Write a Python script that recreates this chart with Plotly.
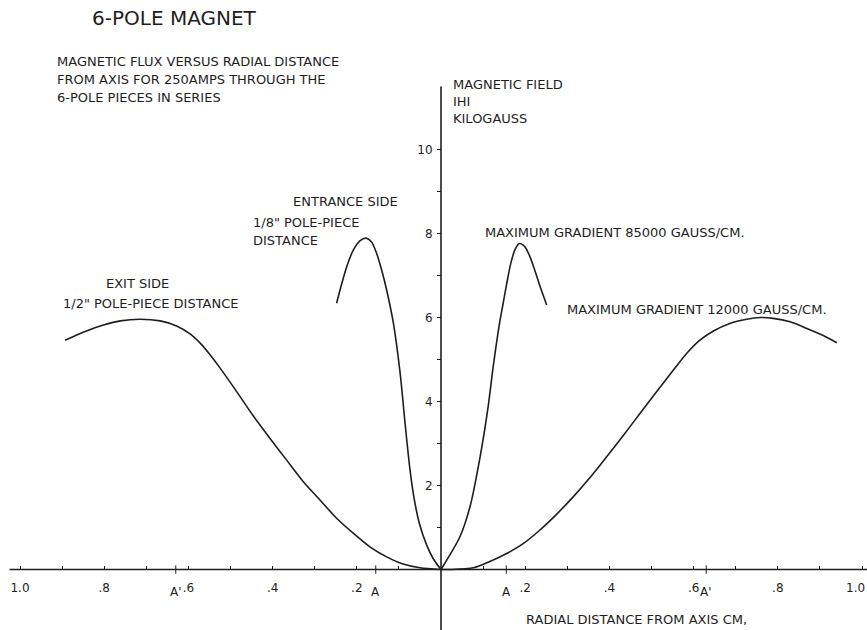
import plotly.graph_objects as go

# ---- data (radial distance in cm, field in kilogauss) ----
exit_x = [-0.893, -0.842, -0.802, -0.762, -0.715, -0.667, -0.628, -0.596, -0.572, -0.549, -0.525,
          -0.485, -0.446, -0.406, -0.367, -0.327, -0.287, -0.248, -0.208, -0.169, -0.129, -0.090, -0.050, 0.0]
exit_y = [5.46, 5.68, 5.82, 5.92, 5.96, 5.92, 5.80, 5.61, 5.39, 5.12, 4.80,
          4.23, 3.66, 3.12, 2.61, 2.09, 1.65, 1.22, 0.86, 0.54, 0.30, 0.13, 0.04, 0.0]

entr_x = [-0.248, -0.240, -0.224, -0.208, -0.192, -0.178, -0.165, -0.153, -0.141, -0.129, -0.113,
          -0.097, -0.086, -0.074, -0.064, -0.052, -0.034, -0.018, 0.0]
entr_y = [6.34, 6.65, 7.21, 7.61, 7.83, 7.89, 7.80, 7.53, 7.13, 6.65, 5.86,
          4.67, 3.55, 2.40, 1.70, 1.12, 0.58, 0.25, 0.0]

g85_x = [0.0, 0.014, 0.045, 0.069, 0.093, 0.112, 0.124, 0.139, 0.146, 0.156, 0.166, 0.176, 0.186,
         0.198, 0.210, 0.222, 0.236, 0.251]
g85_y = [0.0, 0.23, 0.78, 1.50, 2.69, 3.88, 4.83, 5.86, 6.25, 6.80, 7.30, 7.62, 7.76,
         7.70, 7.48, 7.15, 6.72, 6.30]

g12_x = [0.0, 0.021, 0.077, 0.116, 0.156, 0.196, 0.235, 0.275, 0.314, 0.354, 0.394, 0.433, 0.473,
         0.512, 0.552, 0.584, 0.615, 0.647, 0.686, 0.726, 0.758, 0.789, 0.829, 0.869, 0.908, 0.940]
g12_y = [0.0, 0.0, 0.04, 0.19, 0.38, 0.62, 0.94, 1.32, 1.73, 2.19, 2.69, 3.19, 3.72,
         4.23, 4.75, 5.15, 5.46, 5.68, 5.86, 5.96, 6.00, 5.98, 5.90, 5.74, 5.57, 5.40]

x_tick_vals = [-1.0, -0.9, -0.8, -0.7, -0.6, -0.5, -0.4, -0.3, -0.2, -0.1,
               0.1, 0.2, 0.3, 0.4, 0.5, 0.6, 0.7, 0.8, 0.9, 1.0]
x_tick_text = ["1.0", "", ".8", "", ".6", "", ".4", "", ".2", "",
               "", ".2", "", ".4", "", ".6", "", ".8", "", ""]
edge_label_x = 1.0
edge_label_text = "1.0"
y_tick_vals = [1, 2, 3, 4, 5, 6, 7, 8, 9, 10]
y_tick_text = ["", "2", "", "4", "", "6", "", "8", "", "10"]

a_marks_x = [-0.63, -0.155, 0.155, 0.63]
a_marks_text = ["A'", "A", "A", "A'"]

INK = "#1e1e1e"
FONT = "DejaVu Sans"

W, H = 867, 630
X0PX, Y0PX = 441.0, 569.5
XS, YS = 421.0, 42.0
xr = [-X0PX / XS, (W - X0PX) / XS]
yr = [-(H - Y0PX) / YS, Y0PX / YS]

fig = go.Figure()
for xs, ys in [(exit_x, exit_y), (entr_x, entr_y), (g85_x, g85_y), (g12_x, g12_y)]:
    fig.add_trace(go.Scatter(x=xs, y=ys, mode="lines",
                             line=dict(color=INK, width=1.6, shape="spline", smoothing=0.8),
                             showlegend=False, hoverinfo="skip"))

# axis lines
fig.add_shape(type="line", x0=-1.025, x1=xr[1], y0=0, y1=0, line=dict(color=INK, width=1.6))
fig.add_shape(type="line", x0=0, x1=0, y0=yr[0], y1=11.5, line=dict(color=INK, width=1.6))
# A marks ticks
for ax in a_marks_x:
    fig.add_shape(type="line", x0=ax, x1=ax, y0=-0.1, y1=0.1, line=dict(color=INK, width=1))

fig.update_layout(
    width=W, height=H,
    margin=dict(l=0, r=0, t=0, b=0, autoexpand=False),
    paper_bgcolor="white", plot_bgcolor="white",
    font=dict(family=FONT, color=INK, size=12),
    xaxis=dict(range=xr, showgrid=False, zeroline=False, showline=False, automargin=False,
               anchor="free", position=(H - Y0PX) / H,
               tickvals=x_tick_vals, ticktext=x_tick_text,
               ticks="inside", ticklen=4, tickcolor=INK, tickwidth=1,
               tickfont=dict(size=12, family=FONT, color=INK),
               ticklabelstandoff=9, ticklabeloverflow="allow"),
    yaxis=dict(range=yr, showgrid=False, zeroline=False, showline=False, automargin=False,
               anchor="free", position=X0PX / W,
               tickvals=y_tick_vals, ticktext=y_tick_text,
               ticks="outside", ticklen=4, tickcolor=INK, tickwidth=1,
               tickfont=dict(size=12, family=FONT, color=INK), ticklabelstandoff=2),
)

def txt(text, px, py, size=13, anchor="left"):
    fig.add_annotation(text=text, x=px / W, y=1 - py / H, xref="paper", yref="paper",
                       xanchor=anchor, yanchor="middle", showarrow=False,
                       font=dict(size=size, family=FONT, color=INK))

txt("6-POLE MAGNET", 90, 18, size=20)
txt("MAGNETIC FLUX VERSUS RADIAL DISTANCE", 55, 62)
txt("FROM AXIS FOR 250AMPS THROUGH THE", 55, 79)
txt("6-POLE PIECES IN SERIES", 55, 97)
txt("MAGNETIC FIELD", 451, 85)
txt("IHI", 451, 102)
txt("KILOGAUSS", 451, 118)
txt("ENTRANCE SIDE", 291, 202)
txt("1/8\" POLE-PIECE", 251, 222)
txt("DISTANCE", 251, 241)
txt("EXIT SIDE", 104, 284)
txt("1/2\" POLE-PIECE DISTANCE", 61, 303)
txt("MAXIMUM GRADIENT 85000 GAUSS/CM.", 483, 232)
txt("MAXIMUM GRADIENT 12000 GAUSS/CM.", 565, 309)
txt("RADIAL DISTANCE FROM AXIS CM,", 524, 619)

# right-end "1.0" label kept inside the page edge
fig.add_annotation(text=edge_label_text, x=edge_label_x, y=0, xref="x", yref="y",
                   xanchor="right", yanchor="middle", xshift=5, yshift=-18, showarrow=False,
                   font=dict(size=12, family=FONT, color=INK))

for ax, at in zip(a_marks_x, a_marks_text):
    fig.add_annotation(text=at, x=ax, y=0, xref="x", yref="y", yshift=-22,
                       xanchor="center", yanchor="middle", showarrow=False,
                       font=dict(size=12, family=FONT, color=INK))

fig.write_html("out.html")
